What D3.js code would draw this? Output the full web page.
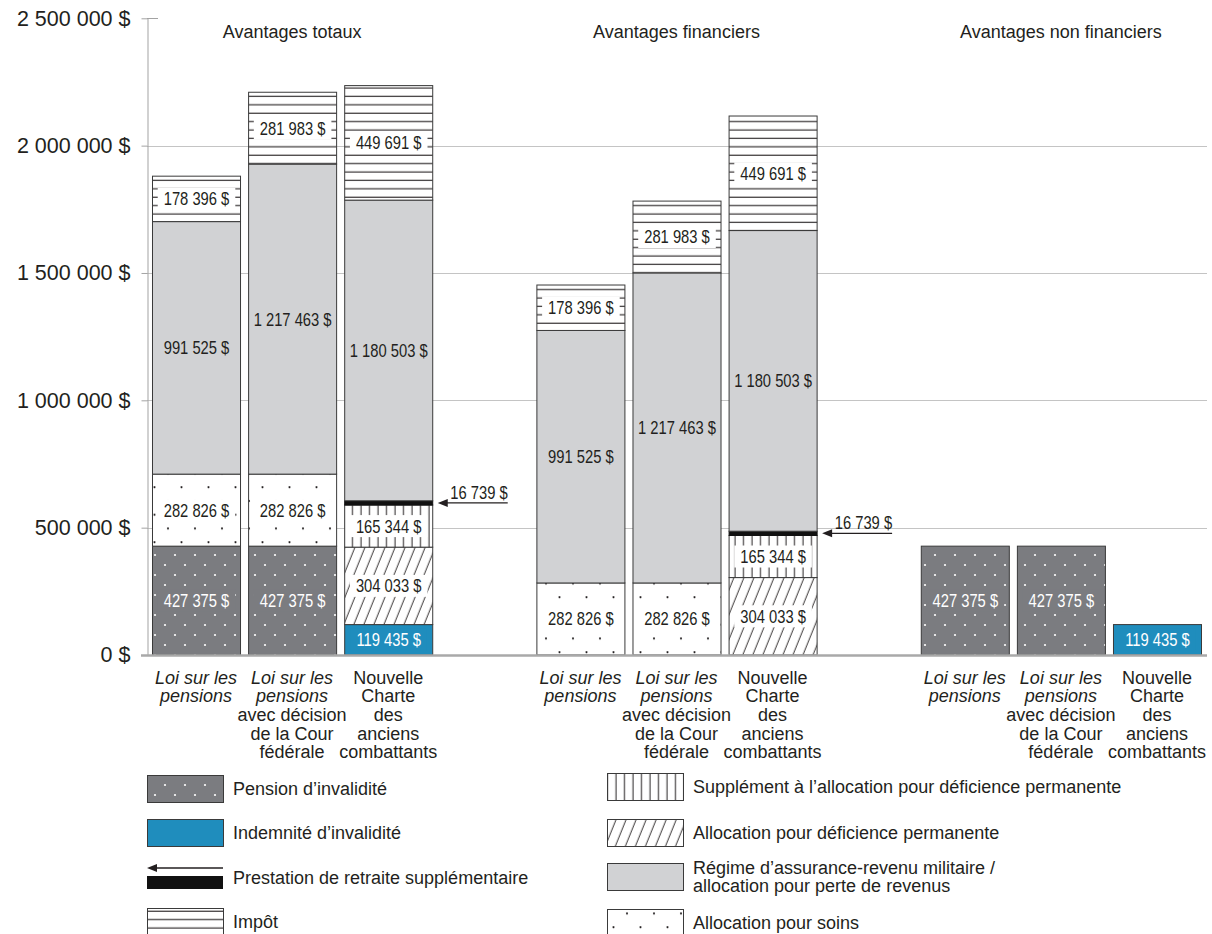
<!DOCTYPE html>
<html>
<head>
<meta charset="utf-8">
<script src="https://cdn.jsdelivr.net/npm/d3@7"></script>
<style>
  body { margin: 0; background: #fff; }
  svg { display: block; }
  text { font-family: "Liberation Sans", Arial, sans-serif; fill: #231f20; }
  .num { font-size: 18px; }
</style>
</head>
<body>
<svg id="chart" width="1212" height="934"></svg>
<script>
// Columns: three groups of three scenarios, with an empty slot between groups
const categories = ["lp_tot", "lpc_tot", "ncac_tot", "gap1", "lp_fin", "lpc_fin", "ncac_fin", "gap2", "lp_nf", "lpc_nf", "ncac_nf"];

const labelLP = [{ t: "Loi sur les", i: true }, { t: "pensions", i: true }];
const labelLPC = [{ t: "Loi sur les", i: true }, { t: "pensions", i: true }, { t: "avec décision" }, { t: "de la Cour" }, { t: "fédérale" }];
const labelNCAC = [{ t: "Nouvelle" }, { t: "Charte" }, { t: "des" }, { t: "anciens" }, { t: "combattants" }];
const categoryLabels = [labelLP, labelLPC, labelNCAC, [], labelLP, labelLPC, labelNCAC, [], labelLP, labelLPC, labelNCAC];

const groupTitles = ["Avantages totaux", "Avantages financiers", "Avantages non financiers"];
const groupTitleAnchors = ["lpc_tot", "lpc_fin", "lpc_nf"];

// Benefit components (dollars), one value per column, bottom of the stack first
const pensionInvalidite     = [427375, 427375, 0,       0, 0,       0,       0,       0, 427375, 427375, 0];
const indemniteInvalidite   = [0,      0,      119435,  0, 0,       0,       0,       0, 0,      0,      119435];
const allocationSoins       = [282826, 282826, 0,       0, 282826,  282826,  0,       0, 0,      0,      0];
const allocationDeficience  = [0,      0,      304033,  0, 0,       0,       304033,  0, 0,      0,      0];
const supplementDeficience  = [0,      0,      165344,  0, 0,       0,       165344,  0, 0,      0,      0];
const prestationRetraite    = [0,      0,      16739,   0, 0,       0,       16739,   0, 0,      0,      0];
const regimeRevenu          = [991525, 1217463, 1180503, 0, 991525, 1217463, 1180503, 0, 0,      0,      0];
const impot                 = [178396, 281983, 449691,  0, 178396,  281983,  449691,  0, 0,      0,      0];

const yTicks = [0, 500000, 1000000, 1500000, 2000000, 2500000];

const seriesKeys = ["pension", "indemnite", "soins", "apd", "supp", "prestation", "regime", "impot"];
const seriesValues = {
  pension: pensionInvalidite, indemnite: indemniteInvalidite, soins: allocationSoins,
  apd: allocationDeficience, supp: supplementDeficience, prestation: prestationRetraite,
  regime: regimeRevenu, impot: impot
};

const rows = categories.map((c, i) => {
  const r = { cat: c };
  seriesKeys.forEach(k => r[k] = seriesValues[k][i]);
  return r;
});

const COL = {
  pension: "#7b7c80",
  indemnite: "#1f8dbd",
  regime: "#d1d2d4",
  ink: "#231f20",
  stroke: "#3a3a3a"
};

const fills = {
  pension: "url(#p-pension)", indemnite: COL.indemnite, soins: "url(#p-soins)",
  apd: "url(#p-apd)", supp: "url(#p-supp)", prestation: "#111",
  regime: COL.regime, impot: "url(#p-impot)"
};
// background behind value labels (keeps pattern lines off the text)
const labelBg = {
  pension: COL.pension, indemnite: COL.indemnite, soins: "#fff",
  apd: "#fff", supp: "#fff", regime: null, impot: "#fff"
};
const labelInk = { pension: "#fff", indemnite: "#fff" };

const fmt = v => d3.format(",")(v).replace(/,/g, " ") + " $";
const NARROW = 0.82; // condensed look for the value labels

const svg = d3.select("#chart");
const defs = svg.append("defs");

// ---- patterns ----
function pattern(id, w, h, extra) {
  const p = defs.append("pattern").attr("id", id).attr("patternUnits", "userSpaceOnUse")
    .attr("width", w).attr("height", h);
  if (extra) extra(p);
  return p;
}
pattern("p-pension", 20, 20, p => {
  p.append("rect").attr("width", 20).attr("height", 20).attr("fill", COL.pension);
  p.append("circle").attr("cx", 5).attr("cy", 5).attr("r", 1.1).attr("fill", "#fff");
  p.append("circle").attr("cx", 15).attr("cy", 15).attr("r", 1.1).attr("fill", "#fff");
});
pattern("p-soins", 27, 27.5, p => {
  p.append("rect").attr("width", 27).attr("height", 27.5).attr("fill", "#fff");
  p.append("circle").attr("cx", 6).attr("cy", 6).attr("r", 1.1).attr("fill", COL.ink);
  p.append("circle").attr("cx", 19.5).attr("cy", 19.75).attr("r", 1.1).attr("fill", COL.ink);
});
pattern("p-impot", 10, 8.4, p => {
  p.append("rect").attr("width", 10).attr("height", 8.4).attr("fill", "#fff");
  p.append("line").attr("x1", 0).attr("x2", 10).attr("y1", 4).attr("y2", 4)
    .attr("stroke", COL.ink).attr("stroke-width", 1.1);
});
pattern("p-supp", 8.5, 10, p => {
  p.append("rect").attr("width", 8.5).attr("height", 10).attr("fill", "#fff");
  p.append("line").attr("x1", 4).attr("x2", 4).attr("y1", 0).attr("y2", 10)
    .attr("stroke", COL.ink).attr("stroke-width", 1);
});
pattern("p-apd", 9.3, 10, p => {
  p.attr("patternTransform", "rotate(22)");
  p.append("rect").attr("width", 9.3).attr("height", 10).attr("fill", "#fff");
  p.append("line").attr("x1", 4).attr("x2", 4).attr("y1", 0).attr("y2", 10)
    .attr("stroke", COL.ink).attr("stroke-width", 0.9);
});

// ---- scales ----
const x = d3.scaleBand().domain(categories).range([147, 1206])
  .paddingInner(0.084).paddingOuter(0.052);
const y = d3.scaleLinear().domain([0, 2500000]).range([655, 18.3]);
const bw = x.bandwidth();

// gridlines
svg.append("g").selectAll("line")
  .data(yTicks.filter(t => t > 0 && t < 2500000))
  .join("line")
  .attr("x1", 147).attr("x2", 1207)
  .attr("y1", d => Math.round(y(d)) + 0.5).attr("y2", d => Math.round(y(d)) + 0.5)
  .attr("stroke", "#c4c4c4").attr("stroke-width", 1);

// y axis
const yAxis = d3.axisLeft(y).tickValues(yTicks).tickFormat(fmt).tickSize(6).tickSizeOuter(0).tickPadding(11);
const gy = svg.append("g").attr("transform", "translate(147.5,0)").call(yAxis);
gy.select(".domain").attr("stroke", "#a3a3a3");
gy.selectAll(".tick line").attr("stroke", "#a3a3a3");
gy.selectAll(".tick text").attr("font-size", 21.5).attr("fill", COL.ink)
  .attr("font-family", "'Liberation Sans', Arial, sans-serif");
// small stub to the right of the top tick
svg.append("line").attr("x1", 147).attr("x2", 158)
  .attr("y1", Math.round(y(2500000)) + 0.5).attr("y2", Math.round(y(2500000)) + 0.5)
  .attr("stroke", "#a3a3a3");

// ---- stacked bars ----
const stack = d3.stack().keys(seriesKeys);
const layers = stack(rows);

const gBars = svg.append("g");
layers.forEach(layer => {
  const key = layer.key;
  gBars.append("g").selectAll("rect")
    .data(layer.filter(d => d[1] - d[0] > 0))
    .join("rect")
    .attr("x", d => x(d.data.cat) + 0.5)
    .attr("width", bw)
    .attr("y", d => y(d[1]))
    .attr("height", d => y(d[0]) - y(d[1]))
    .attr("fill", fills[key])
    .attr("stroke", key === "prestation" ? "#111" : COL.stroke)
    .attr("stroke-width", 1);
});

// x axis baseline
svg.append("line").attr("x1", 141).attr("x2", 1207).attr("y1", y(0) + 0.5).attr("y2", y(0) + 0.5)
  .attr("stroke", "#a9a9a9").attr("stroke-width", 2.4);

// condensed number text centred (or end-anchored) at a point
function narrowText(g, px, py, str, anchor) {
  return g.append("text").attr("class", "num")
    .attr("transform", `translate(${px},${py}) scale(${NARROW},1)`)
    .attr("text-anchor", anchor || "middle")
    .text(str);
}

// ---- value labels ----
const gLabels = svg.append("g");
layers.forEach(layer => {
  const key = layer.key;
  if (key === "prestation") return;
  layer.filter(d => d[1] - d[0] > 0).forEach(d => {
    const cx = x(d.data.cat) + bw / 2 + 0.5;
    const cy = y((d[0] + d[1]) / 2);
    const g = gLabels.append("g");
    const t = narrowText(g, cx, cy + 6.5, fmt(d[1] - d[0])).style("fill", labelInk[key] || COL.ink);
    if (labelBg[key]) {
      const w = Math.min(t.node().getComputedTextLength() * NARROW + 12, bw - 6);
      g.insert("rect", "text").attr("x", cx - w / 2).attr("y", cy - 11)
        .attr("width", w).attr("height", 22).attr("fill", labelBg[key]);
    }
  });
});

// ---- callout for the small supplementary retirement benefit ----
const prestLayer = layers.find(l => l.key === "prestation");
const gCall = svg.append("g");
prestLayer.filter(d => d[1] - d[0] > 0).forEach(d => {
  const x0 = x(d.data.cat) + bw + 5.5;
  const x1 = x0 + 70;
  const yy = y((d[0] + d[1]) / 2);
  gCall.append("line").attr("x1", x0 + 8).attr("x2", x1).attr("y1", yy).attr("y2", yy)
    .attr("stroke", COL.ink).attr("stroke-width", 1.4);
  gCall.append("path").attr("d", `M${x0},${yy}L${x0 + 10},${yy - 4}L${x0 + 10},${yy + 4}Z`)
    .attr("fill", COL.ink);
  narrowText(gCall, x1, yy - 4, fmt(d[1] - d[0]), "end");
});

// ---- group titles ----
svg.append("g").selectAll("text").data(groupTitles).join("text")
  .attr("x", (d, i) => x(groupTitleAnchors[i]) + bw / 2)
  .attr("y", 38).attr("text-anchor", "middle").attr("font-size", 18)
  .text(d => d);

// ---- category labels ----
const gCat = svg.append("g");
categories.forEach((c, i) => {
  categoryLabels[i].forEach((ln, j) => {
    gCat.append("text")
      .attr("x", x(c) + bw / 2).attr("y", 683.5 + j * 18.7)
      .attr("text-anchor", "middle").attr("font-size", 18)
      .attr("font-style", ln.i ? "italic" : "normal")
      .text(ln.t);
  });
});

// ---- legend ----
const legendLeft = [
  { key: "pension", label: ["Pension d’invalidité"], y: 775 },
  { key: "indemnite", label: ["Indemnité d’invalidité"], y: 819 },
  { key: "prestation", label: ["Prestation de retraite supplémentaire"], y: 864 },
  { key: "impot", label: ["Impôt"], y: 908 }
];
const legendRight = [
  { key: "supp", label: ["Supplément à l’allocation pour déficience permanente"], y: 773 },
  { key: "apd", label: ["Allocation pour déficience permanente"], y: 819 },
  { key: "regime", label: ["Régime d’assurance-revenu militaire /", "allocation pour perte de revenus"], y: 863 },
  { key: "soins", label: ["Allocation pour soins"], y: 909 }
];
const SW = 76, SH = 27;
function drawLegend(items, lx) {
  const g = svg.append("g");
  items.forEach(it => {
    if (it.key === "prestation") {
      const ay = it.y + 4;
      g.append("line").attr("x1", lx + 8).attr("x2", lx + SW).attr("y1", ay).attr("y2", ay)
        .attr("stroke", COL.ink).attr("stroke-width", 1.4);
      g.append("path").attr("d", `M${lx},${ay}L${lx + 10},${ay - 4}L${lx + 10},${ay + 4}Z`).attr("fill", COL.ink);
      g.append("rect").attr("x", lx).attr("y", it.y + 12).attr("width", SW).attr("height", 13).attr("fill", "#111");
    } else {
      g.append("rect").attr("x", lx + 0.5).attr("y", it.y + 0.5).attr("width", SW).attr("height", SH)
        .attr("fill", fills[it.key]).attr("stroke", COL.stroke).attr("stroke-width", 1);
    }
    const cy = it.y + SH / 2;
    const n = it.label.length;
    it.label.forEach((t, j) => {
      g.append("text").attr("x", lx + SW + 10).attr("y", cy + 6.5 + (j - (n - 1) / 2) * 18.5)
        .attr("font-size", 18).text(t);
    });
  });
}
drawLegend(legendLeft, 147);
drawLegend(legendRight, 607);
</script>
</body>
</html>
